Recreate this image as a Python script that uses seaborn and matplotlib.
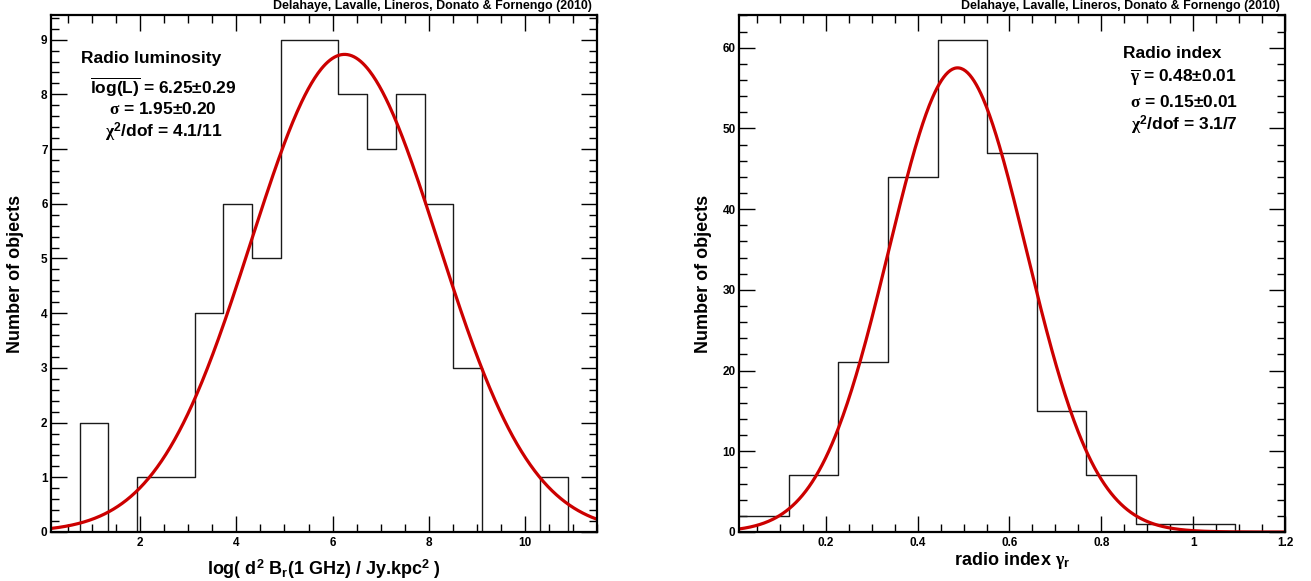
import numpy as np
import pandas as pd
import matplotlib
matplotlib.use("Agg")
import matplotlib.pyplot as plt
from matplotlib.ticker import MultipleLocator, FuncFormatter
import seaborn as sns

# ---------------- data ----------------
# Left panel: radio luminosity histogram (19 equal bins over the axis range)
lum_range = (0.144, 11.5)
lum_counts = [0, 2, 0, 1, 1, 4, 6, 5, 9, 9, 8, 7, 8, 6, 3, 0, 0, 1, 0]
lum_fit_mean = 6.25
lum_fit_sigma = 1.95
lum_fit_amp = 8.73

# Right panel: radio index histogram (11 equal bins over the axis range)
idx_range = (0.011, 1.2)
idx_counts = [2, 7, 21, 44, 61, 47, 15, 7, 1, 1, 0]
idx_fit_mean = 0.487
idx_fit_sigma = 0.150
idx_fit_amp = 57.5

credit = "Delahaye, Lavalle, Lineros, Donato & Fornengo (2010)"

# ---------------- style ----------------
sns.set_style("ticks")
plt.rcParams["font.family"] = ["Liberation Sans", "DejaVu Sans"]
plt.rcParams["font.weight"] = "bold"
plt.rcParams["axes.labelweight"] = "bold"
plt.rcParams["text.color"] = "black"
plt.rcParams["axes.labelcolor"] = "black"
plt.rcParams["xtick.color"] = "black"
plt.rcParams["ytick.color"] = "black"
plt.rcParams["axes.edgecolor"] = "black"
plt.rcParams["mathtext.fontset"] = "custom"
plt.rcParams["mathtext.rm"] = "Liberation Sans:bold"
plt.rcParams["mathtext.bf"] = "Liberation Sans:bold"
plt.rcParams["mathtext.sf"] = "Liberation Sans:bold"
# Greek letters (math italic slot) drawn in a light serif like ROOT's Symbol font
plt.rcParams["mathtext.it"] = "Liberation Serif"

W, H = 1311, 581
fig = plt.figure(figsize=(W / 100, H / 100), dpi=100)
fig.patch.set_facecolor("white")

def px_axes(x0, y0, x1, y1):
    return fig.add_axes([x0 / W, 1 - y1 / H, (x1 - x0) / W, (y1 - y0) / H])

axL = px_axes(51, 15, 597, 532)
axR = px_axes(739, 15, 1285, 532)

fmt = FuncFormatter(lambda v, p: "%g" % round(v, 6))

def draw(ax, rng, counts, mean, sigma, amp, xmaj, xmin, ymaj, ymin, xlabel, label_base):
    n = len(counts)
    width = (rng[1] - rng[0]) / n
    centers = rng[0] + width * (np.arange(n) + 0.5)
    df = pd.DataFrame({"x": centers, "w": np.asarray(counts, dtype=float)})
    sns.histplot(data=df, x="x", weights="w", bins=n, binrange=rng,
                 element="step", fill=False, color="#1a1a1a",
                 linewidth=1.0, ax=ax)
    xs = np.linspace(rng[0], rng[1], 500)
    ys = amp * np.exp(-0.5 * ((xs - mean) / sigma) ** 2)
    sns.lineplot(x=xs, y=ys, color="#CC0000", linewidth=2.3, ax=ax)
    ax.set_xlim(rng)
    ax.set_ylim(0, max(counts) * 1.05)
    ax.xaxis.set_major_locator(MultipleLocator(xmaj))
    ax.xaxis.set_minor_locator(MultipleLocator(xmin))
    ax.yaxis.set_major_locator(MultipleLocator(ymaj))
    ax.yaxis.set_minor_locator(MultipleLocator(ymin))
    ax.xaxis.set_major_formatter(fmt)
    ax.yaxis.set_major_formatter(fmt)
    ax.tick_params(which="both", direction="in", top=True, right=True,
                   labelsize=8.5, color="black", labelcolor="black")
    ax.tick_params(which="major", length=11.5, width=1.0)
    ax.tick_params(which="minor", length=5.8, width=1.0)
    ax.tick_params(axis="y", pad=2.5)
    ax.tick_params(axis="x", pad=3.5)
    for lab in ax.get_xticklabels() + ax.get_yticklabels():
        lab.set_fontweight("bold")
    for s in ax.spines.values():
        s.set_linewidth(1.6)
        s.set_color("black")
    ax.set_xlabel(xlabel, fontsize=13, fontweight="bold", color="black")
    ax.set_ylabel("Number of objects", fontsize=13, fontweight="bold",
                  color="black")
    ax.xaxis.set_label_coords(0.5, label_base)
    ax.xaxis.label.set_va("baseline")
    ax.yaxis.set_label_coords(-0.0659, 0.5)
    ax.yaxis.label.set_va("center")
    ax.set_facecolor("white")
    ax.grid(False)

draw(axL, lum_range, lum_counts, lum_fit_mean, lum_fit_sigma, lum_fit_amp,
     2, 0.5, 1, 0.2,
     r"log( d$^{\mathbf{2}}$ B$_{\mathbf{r}}$(1 GHz) / Jy.kpc$^{\mathbf{2}}$ )",
     -(575 - 532) / 517)
draw(axR, idx_range, idx_counts, idx_fit_mean, idx_fit_sigma, idx_fit_amp,
     0.2, 0.05, 10, 2,
     r"radio index $\gamma_{\mathbf{r}}$",
     -(565 - 532) / 517)

def ftext(x, y, s, size=12.5, ha="center"):
    fig.text(x / W, 1 - y / H, s, ha=ha, va="center", fontsize=size,
             fontweight="bold", color="black")

# credits above each frame
ftext(592, 6, credit, size=8.9, ha="right")
ftext(1280, 6, credit, size=8.9, ha="right")

# left annotations
ftext(151, 58, "Radio luminosity")
ftext(163, 87, r"$\overline{\mathrm{log(L)}}$ = 6.25±0.29")
ftext(163, 109, r"$\sigma$ = 1.95±0.20")
ftext(164, 132, r"$\chi^{\mathbf{2}}$/dof = 4.1/11")

# right annotations
ftext(1172, 54, "Radio index")
ftext(1183, 77, r"$\overline{\gamma}$ = 0.48±0.01")
ftext(1184, 102, r"$\sigma$ = 0.15±0.01")
ftext(1184, 125, r"$\chi^{\mathbf{2}}$/dof = 3.1/7")

fig.savefig("out.png", dpi=100, facecolor="white")
